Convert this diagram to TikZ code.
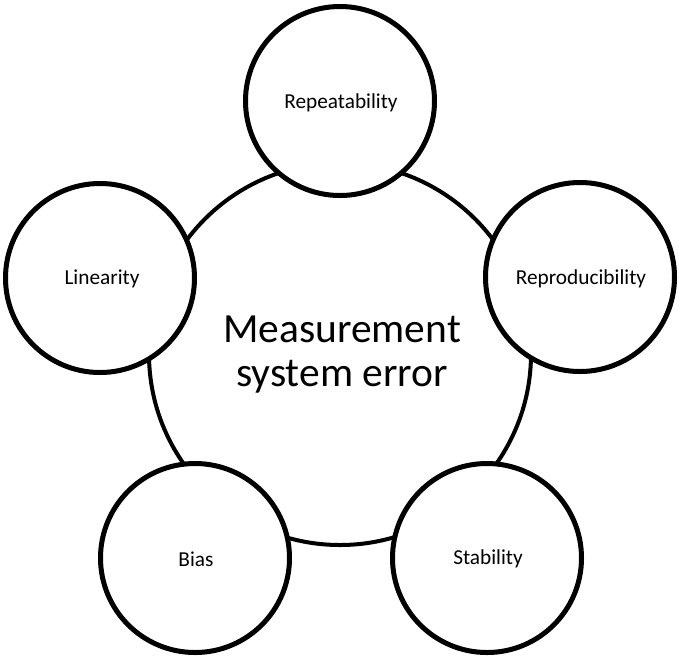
\documentclass[tikz,border=0pt]{standalone}
\usepackage{fontspec}
\setmainfont{Carlito}
\begin{document}
\begin{tikzpicture}[x=1pt,y=-1pt,
  hub/.style={circle,draw=black,fill=white,line width=4pt,minimum size=382pt,inner sep=0pt},
  facet/.style={circle,draw=black,fill=white,line width=5pt,minimum size=189pt,inner sep=0pt},
  facettext/.style={inner sep=0pt,font=\fontsize{21.3}{25}\selectfont}]
\useasboundingbox (0,0) rectangle (679,657);
\node[hub] (hub) at (340,354) {};
\node[align=center,inner sep=0pt,font=\fontsize{41.5}{44}\selectfont] (title) at (342,355) {Measurement\\system error};
\node[facet] (rep) at (340,101) {};
\node[facet] (repro) at (580,277) {};
\node[facet] (lin) at (100,278) {};
\node[facet] (stab) at (487,558) {};
\node[facet] (bias) at (195,558) {};
\node[facettext] (trep) at (341,103) {Repeatability};
\node[facettext] (trepro) at (581,279) {Reproducibility};
\node[facettext] (tlin) at (102,279) {Linearity};
\node[facettext] (tstab) at (488,559) {Stability};
\node[facettext] (tbias) at (196,559) {Bias};
\end{tikzpicture}
\end{document}
